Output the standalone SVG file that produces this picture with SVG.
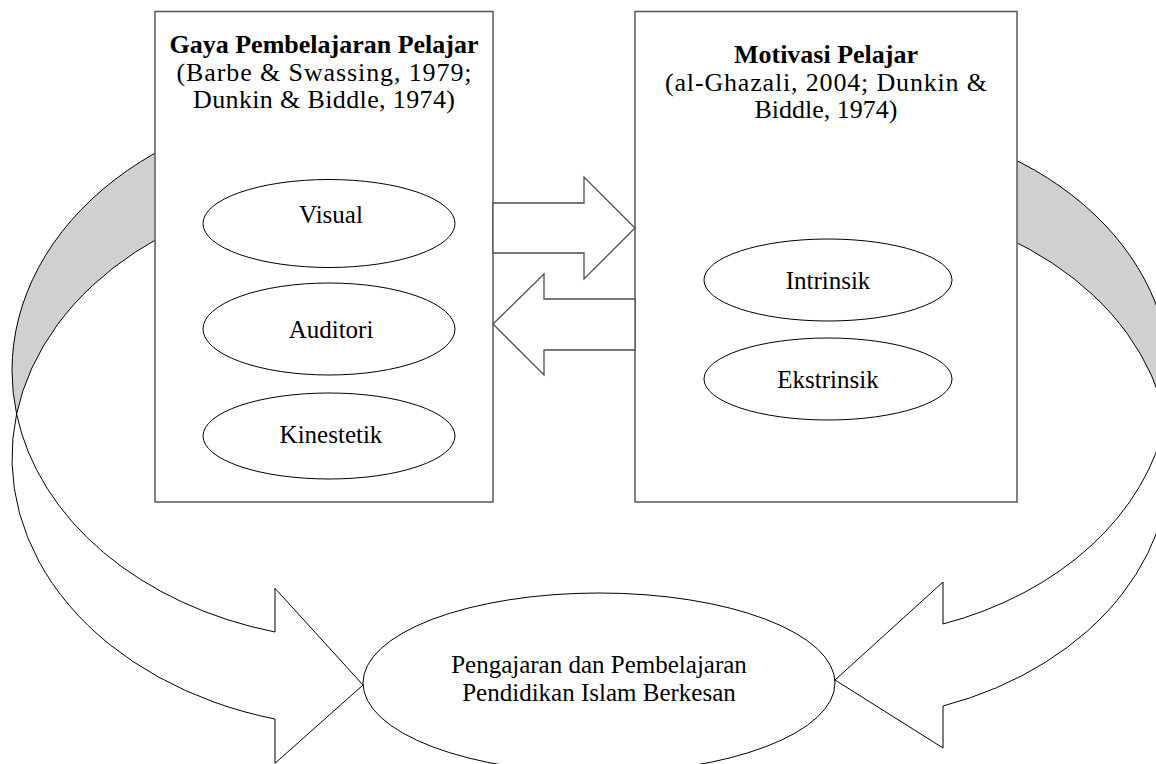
<svg xmlns="http://www.w3.org/2000/svg" width="1156" height="764" viewBox="0 0 1156 764">
<style>
.curve{fill:#ffffff;stroke:#000000;stroke-width:1;}
.band{fill:#d0d0d0;stroke:#000000;stroke-width:1;}
.box{fill:#ffffff;stroke:#595959;stroke-width:1.5;}
.blk{fill:#ffffff;stroke:#4d4d4d;stroke-width:1.3;stroke-linejoin:miter;}
.ell{fill:#ffffff;stroke:#000000;stroke-width:1;}
text{font-family:"Liberation Serif","Times New Roman",serif;font-size:25px;fill:#000000;text-anchor:middle;}
.t{font-size:26px;}
.b{font-weight:bold;font-size:26px;}
</style>
<g id="connectors">
  <g id="curve-left">
    <path class="band" d="M 363,100.6 A 351 270 0 0 0 12,370.6 A 351 270 0 0 0 16.6,414 A 351 270 0 0 1 363,187.6 Z"/>
    <path class="curve" d="M 16.6,414 A 351 270 0 0 0 275,719 L 275,763.3 L 363,685 L 275,588.3 L 275,632 A 351 270 0 0 1 16.6,414 Z"/>
  </g>
  <g id="curve-right">
    <path class="band" d="M 835,119.1 A 335 259.4 0 0 1 1170,378.5 A 335 259.4 0 0 1 1165.8,419.5 A 335 259.4 0 0 0 835,201.1 Z"/>
    <path class="curve" d="M 1165.8,419.5 A 335 259.4 0 0 1 943,706 L 943,748 L 835,680 L 943,582 L 943,624 A 335 259.4 0 0 0 1165.8,419.5 Z"/>
  </g>
</g>
<g id="node-gaya">
  <rect class="box" x="155" y="11.5" width="338" height="490.5"/>
  <text class="b" x="324" y="53">Gaya Pembelajaran Pelajar</text>
  <text class="t" x="324" y="81" textLength="295">(Barbe &amp; Swassing, 1979;</text>
  <text class="t" x="324" y="108" textLength="262">Dunkin &amp; Biddle, 1974)</text>
</g>
<g id="node-visual">
  <ellipse class="ell" cx="329" cy="223.5" rx="126" ry="44"/>
  <text x="331" y="223">Visual</text>
</g>
<g id="node-auditori">
  <ellipse class="ell" cx="329" cy="329" rx="126" ry="46"/>
  <text x="331" y="338">Auditori</text>
</g>
<g id="node-kinestetik">
  <ellipse class="ell" cx="329" cy="436" rx="126" ry="43"/>
  <text x="331" y="443">Kinestetik</text>
</g>
<g id="node-motivasi">
  <rect class="box" x="635" y="11.5" width="382" height="490.5"/>
  <text class="b" x="826" y="63">Motivasi Pelajar</text>
  <text class="t" x="826" y="91" textLength="322">(al-Ghazali, 2004; Dunkin &amp;</text>
  <text class="t" x="826" y="118">Biddle, 1974)</text>
</g>
<g id="node-intrinsik">
  <ellipse class="ell" cx="828" cy="280" rx="124" ry="41"/>
  <text x="828" y="289">Intrinsik</text>
</g>
<g id="node-ekstrinsik">
  <ellipse class="ell" cx="828" cy="379" rx="124" ry="41"/>
  <text x="828" y="388">Ekstrinsik</text>
</g>
<g id="block-arrows">
  <path class="blk" d="M 493,203 L 584,203 L 584,177 L 635,228 L 584,279 L 584,253 L 493,253 Z"/>
  <path class="blk" d="M 635,299 L 544,299 L 544,274 L 493,324 L 544,375 L 544,350 L 635,350 Z"/>
</g>
<g id="node-pengajaran">
  <ellipse class="ell" cx="599" cy="683" rx="236" ry="90"/>
  <text x="599" y="673">Pengajaran dan Pembelajaran</text>
  <text x="599" y="701">Pendidikan Islam Berkesan</text>
</g>
</svg>
